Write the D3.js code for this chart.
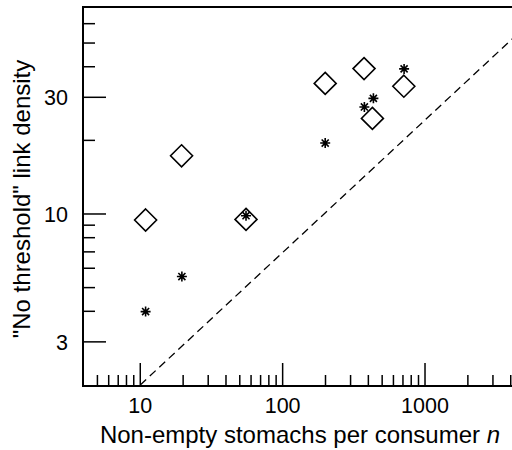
<!DOCTYPE html>
<html>
<head>
<meta charset="utf-8">
<script src="https://cdn.jsdelivr.net/npm/d3@7/dist/d3.min.js"></script>
<style>
  html, body { margin: 0; padding: 0; background: #fff; }
  svg { display: block; font-family: "Liberation Sans", Arial, sans-serif; }
</style>
</head>
<body>
<svg id="chart" width="512" height="450"></svg>
<script>
// Sampling effort per consumer (n) against "no threshold" link density
const diamondN = [10.9, 19.5, 55.3, 199, 373, 427, 710];
const diamondL = [9.45, 17.3, 9.5, 34.2, 39.3, 24.6, 33.3];
const starN = [10.9, 19.6, 55.3, 199, 375, 434, 713];
const starL = [3.99, 5.55, 9.84, 19.5, 27.4, 29.7, 39.2];

// Reference line (dashed)
const refN = [10, 4100];
const refL = [2.0, 52];

// Axis ticks
const xMajor = [10, 100, 1000];
const xMinor = [5, 6, 7, 8, 9, 20, 30, 40, 50, 60, 70, 80, 90,
                200, 300, 400, 500, 600, 700, 800, 900, 2000, 3000, 4000];
const yMajor = [3, 10, 30];
const yMinor = [4, 5, 6, 7, 8, 9, 20, 40, 50, 60];

const svg = d3.select("#chart");
const plotL = 83, plotR = 512, plotT = 7, plotB = 386;

const x = d3.scaleLog().domain([3.96, 4083]).range([plotL, plotR]);
const y = d3.scaleLog().domain([1.98, 70.2]).range([plotB, plotT]);

const g = svg.append("g");

// clip plotting area
svg.append("defs").append("clipPath").attr("id", "plotclip")
  .append("rect").attr("x", plotL).attr("y", plotT)
  .attr("width", plotR - plotL).attr("height", plotB - plotT);

// dashed reference line
g.append("path")
  .attr("clip-path", "url(#plotclip)")
  .datum(refN.map((n, i) => [n, refL[i]]))
  .attr("d", d3.line().x(d => x(d[0])).y(d => y(d[1])))
  .attr("fill", "none")
  .attr("stroke", "#000")
  .attr("stroke-width", 1.3)
  .attr("stroke-dasharray", "8,5");

// x ticks (drawn inward, upward)
const xTicks = g.append("g");
xTicks.selectAll("line.maj").data(xMajor).join("line")
  .attr("class", "maj")
  .attr("x1", d => x(d)).attr("x2", d => x(d))
  .attr("y1", plotB).attr("y2", plotB - 23)
  .attr("stroke", "#000").attr("stroke-width", 1.5);
xTicks.selectAll("line.min").data(xMinor).join("line")
  .attr("class", "min")
  .attr("x1", d => x(d)).attr("x2", d => x(d))
  .attr("y1", plotB).attr("y2", plotB - 11)
  .attr("stroke", "#000").attr("stroke-width", 1.5);
xTicks.selectAll("text").data(xMajor).join("text")
  .attr("x", d => x(d)).attr("y", 413)
  .attr("text-anchor", "middle")
  .attr("font-size", 21.5)
  .text(d => d3.format("d")(d));

// y ticks (drawn inward, rightward)
const yTicks = g.append("g");
yTicks.selectAll("line.maj").data(yMajor).join("line")
  .attr("class", "maj")
  .attr("y1", d => y(d)).attr("y2", d => y(d))
  .attr("x1", plotL).attr("x2", plotL + 23)
  .attr("stroke", "#000").attr("stroke-width", 1.5);
yTicks.selectAll("line.min").data(yMinor).join("line")
  .attr("class", "min")
  .attr("y1", d => y(d)).attr("y2", d => y(d))
  .attr("x1", plotL).attr("x2", plotL + 12)
  .attr("stroke", "#000").attr("stroke-width", 1.5);
yTicks.selectAll("text").data(yMajor).join("text")
  .attr("x", 68).attr("y", d => y(d))
  .attr("dy", "0.36em")
  .attr("text-anchor", "end")
  .attr("font-size", 21.5)
  .text(d => d);

// frame: left, bottom and top lines
g.append("path")
  .attr("d", `M${plotR},${plotT}H${plotL}V${plotB}H${plotR}`)
  .attr("fill", "none")
  .attr("stroke", "#000")
  .attr("stroke-width", 2);

// diamonds
const ds = 11;
g.append("g").selectAll("path").data(diamondN.map((n, i) => [n, diamondL[i]])).join("path")
  .attr("transform", d => `translate(${x(d[0])},${y(d[1])})`)
  .attr("d", `M0,${-ds}L${ds},0L0,${ds}L${-ds},0Z`)
  .attr("fill", "none")
  .attr("stroke", "#000")
  .attr("stroke-width", 1.6);

// asterisks (eight arms)
const r = 5, rd = r * Math.SQRT1_2;
const starPath = `M${-r},0H${r}M0,${-r}V${r}M${-rd},${-rd}L${rd},${rd}M${-rd},${rd}L${rd},${-rd}`;
g.append("g").selectAll("path").data(starN.map((n, i) => [n, starL[i]])).join("path")
  .attr("transform", d => `translate(${x(d[0])},${y(d[1])})`)
  .attr("d", starPath)
  .attr("fill", "none")
  .attr("stroke", "#000")
  .attr("stroke-width", 1.6);

// axis titles
const xt = svg.append("text")
  .attr("x", 300).attr("y", 443)
  .attr("text-anchor", "middle")
  .attr("font-size", 24);
xt.append("tspan").text("Non-empty stomachs per consumer ");
xt.append("tspan").attr("font-style", "italic").text("n");

svg.append("text")
  .attr("transform", "translate(30,199) rotate(-90)")
  .attr("text-anchor", "middle")
  .attr("font-size", 24)
  .text("\"No threshold\" link density");
</script>
</body>
</html>
